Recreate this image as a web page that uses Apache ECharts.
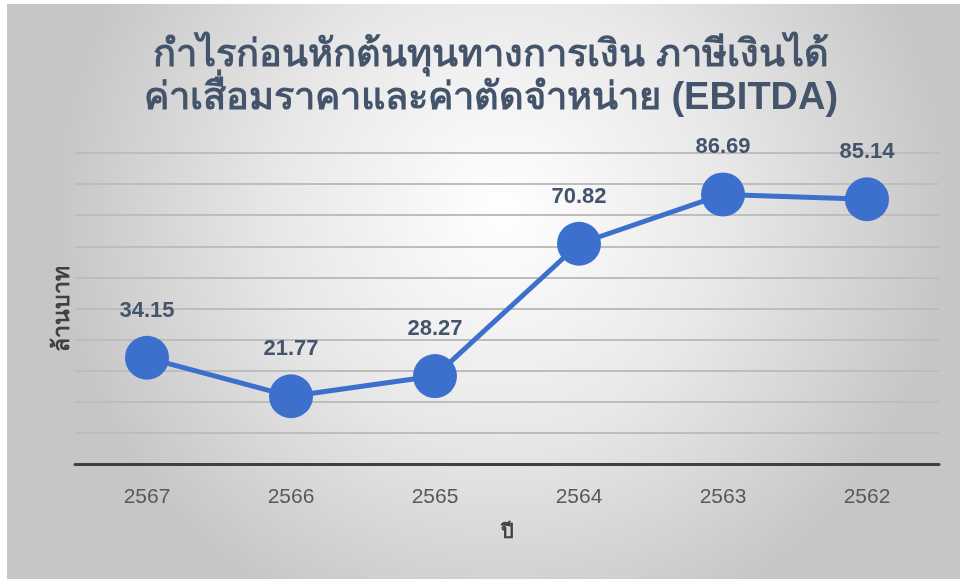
<!DOCTYPE html>
<html>
<head>
<meta charset="utf-8">
<script src="https://cdn.jsdelivr.net/npm/echarts@6/dist/echarts.min.js"></script>
<style>
html,body{margin:0;padding:0;background:#ffffff;width:960px;height:581px;overflow:hidden;}
#chart{position:absolute;left:7px;top:4px;width:953px;height:575px;}
</style>
</head>
<body>
<div id="chart"></div>
<script>
var titleLines = ['กำไรก่อนหักต้นทุนทางการเงิน ภาษีเงินได้', 'ค่าเสื่อมราคาและค่าตัดจำหน่าย (EBITDA)'];
var years = ['2567', '2566', '2565', '2564', '2563', '2562'];
var ebitda = [34.15, 21.77, 28.27, 70.82, 86.69, 85.14];
var xAxisName = 'ปี';
var yAxisName = 'ล้านบาท';

var chart = echarts.init(document.getElementById('chart'), null, {renderer: 'canvas'});
chart.setOption({
  backgroundColor: {
    type: 'radial', x: 0.52, y: 0.36, r: 0.78,
    colorStops: [
      {offset: 0, color: '#ffffff'},
      {offset: 0.5, color: '#e8e8e8'},
      {offset: 1, color: '#c6c6c6'}
    ]
  },
  title: {
    text: titleLines.join('\n'),
    left: 479,
    top: 25,
    textAlign: 'center',
    textStyle: {
      fontFamily: 'sans-serif',
      fontSize: 38,
      fontWeight: 'bold',
      color: '#44546a',
      lineHeight: 43
    }
  },
  grid: {left: 68, right: 21, top: 149, bottom: 115, containLabel: false},
  xAxis: {
    type: 'category',
    data: years,
    boundaryGap: true,
    axisLine: {lineStyle: {color: '#404040', width: 3}},
    axisTick: {show: false},
    axisLabel: {color: '#595959', fontSize: 21, margin: 23, fontFamily: 'sans-serif'},
    name: xAxisName,
    nameLocation: 'middle',
    nameGap: 58,
    nameTextStyle: {color: '#404040', fontSize: 20, fontWeight: 'bold'}
  },
  yAxis: {
    type: 'value',
    min: 0, max: 100, interval: 10,
    axisLine: {show: false},
    axisTick: {show: false},
    axisLabel: {show: false},
    splitLine: {lineStyle: {color: '#bdbdbd', width: 2}},
    name: yAxisName,
    nameLocation: 'middle',
    nameGap: 1,
    nameRotate: 90,
    nameTextStyle: {color: '#404040', fontSize: 23, fontWeight: 'bold'}
  },
  series: [{
    type: 'line',
    data: ebitda,
    symbol: 'circle',
    symbolSize: 44,
    lineStyle: {color: '#3d6fcc', width: 5},
    itemStyle: {color: '#3d6fcc'},
    label: {
      show: true,
      position: 'top',
      distance: 14,
      formatter: function(p){ return p.value.toFixed(2); },
      color: '#44546a',
      fontSize: 22,
      fontWeight: 'bold'
    },
    animation: false
  }],
  animation: false
});
</script>
</body>
</html>
